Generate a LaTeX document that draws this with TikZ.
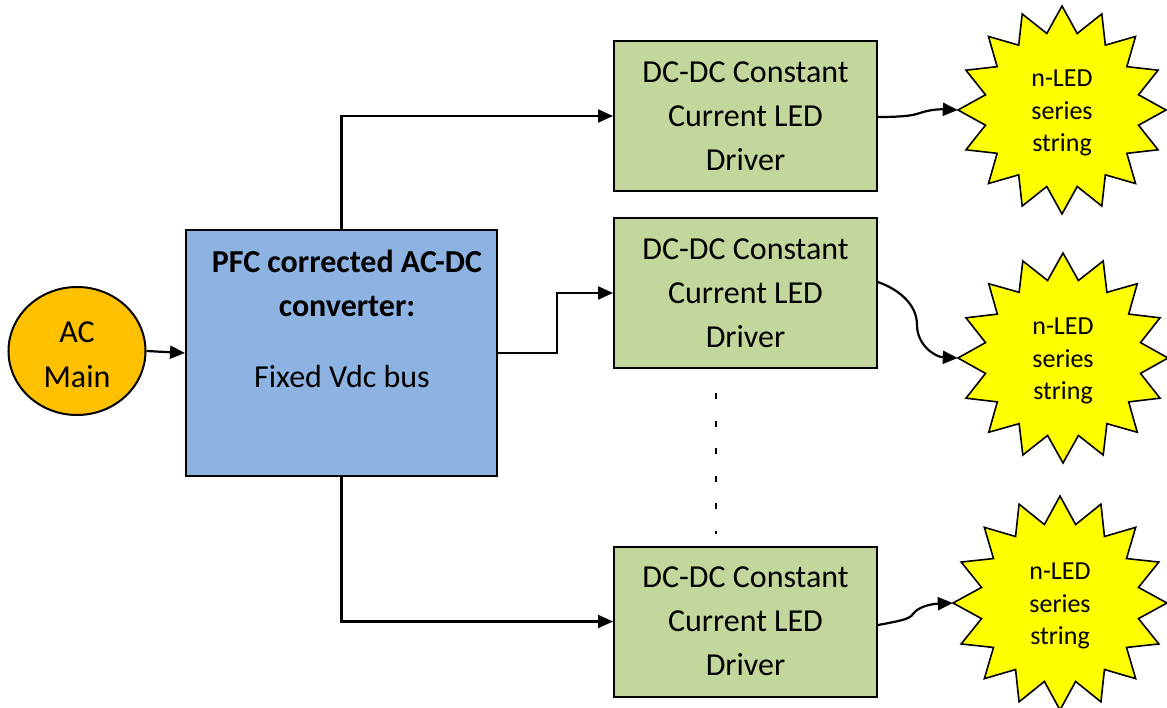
\documentclass[tikz,border=0pt]{standalone}
\usepackage{fontspec}
\setmainfont{Carlito}
\usetikzlibrary{arrows.meta,shapes.geometric,calc}
\definecolor{greenbox}{RGB}{195,214,155}
\definecolor{bluebox}{RGB}{141,179,226}
\definecolor{acorange}{RGB}{255,192,0}
\definecolor{staryellow}{RGB}{255,255,0}
\tikzset{
  drvbox/.style={draw=black, line width=2pt, fill=greenbox, minimum width=263pt, minimum height=150pt, inner sep=0pt, align=center, font=\fontsize{32}{44}\selectfont},
  pfcbox/.style={draw=black, line width=2pt, fill=bluebox, minimum width=311pt, minimum height=246pt, inner sep=0pt},
  acnode/.style={ellipse, draw=black, line width=2pt, fill=acorange, minimum width=137pt, minimum height=128pt, inner sep=0pt, align=center, font=\fontsize{32}{45}\selectfont},
  bigtxt/.style={align=center, inner sep=0pt, font=\fontsize{32}{44}\selectfont},
  starfill/.style={draw=black, line width=1.6pt, fill=staryellow, line join=miter},
  startext/.style={circle, minimum size=#1, inner sep=0pt, align=center, font=\fontsize{26}{32.5}\selectfont},
  conn/.style={draw=black, line width=2.2pt, -{Triangle[length=15pt,width=13pt]}},
  dotline/.style={draw=black, line width=2pt, dash pattern=on 6pt off 21.5pt}
}
\newcommand\ledstar[4]{%
  \filldraw[starfill] ([shift={(#1)}]90:#2) \foreach \k in {1,...,31}{ -- ([shift={(#1)}]{90+\k*11.25}:{ifthenelse(isodd(\k),#3,#2)}) } -- cycle;
  \node[startext=#2*2pt] (#4) at (#1) {\rule{0pt}{23pt}n-LED\\series\\string};
}
\begin{document}
\begin{tikzpicture}[x=1pt,y=-1pt]
\useasboundingbox (0,0) rectangle (1167,708);

% nodes
\node[acnode] (ac) at (77,351) {\rule{0pt}{29pt}AC\\Main};
\node[pfcbox] (pfc) at (341.5,353) {};
\node[bigtxt, font=\fontsize{32}{44}\selectfont\bfseries] (pfct) at (347,283.5) {PFC corrected AC-DC\\converter:};
\node[bigtxt, anchor=base] (pfcv) at (342,388) {Fixed Vdc bus};

\node[drvbox] (b1) at (745.5,116) {DC-DC Constant\\Current LED\\Driver};
\node[drvbox] (b2) at (745.5,293) {DC-DC Constant\\Current LED\\Driver};
\node[drvbox] (b3) at (745.5,621.5) {DC-DC Constant\\Current LED\\Driver};

\ledstar{1062,110}{104}{78}{s1}
\ledstar{1063,358}{105}{79}{s2}
\ledstar{1060,603}{107}{80}{s3}

% connectors
\draw[conn] (ac.east) -- (pfc.west);
\draw[conn] (pfc.north) |- (b1.west);
\draw[conn] (pfc.east) -- ++(59,0) |- (b2.west);
\draw[conn] (pfc.south) |- (b3.west);

\draw[conn] ($(b1.east)+(0,1)$) .. controls (912,117) and (916,114) .. (920,113) .. controls (926,111) and (935,109) .. (s1.west);
\draw[conn] ($(b2.east)+(0,-11)$) .. controls (900,290) and (917,305) .. (917,325) .. controls (917,345) and (935,357) .. (s2.west);
\draw[conn] ($(b3.east)+(0,3.5)$) .. controls (900,621) and (910,619) .. (913,614) .. controls (918,607) and (930,604) .. (s3.west);

% dotted continuation
\coordinate (d1) at ($(b2.south west)+(103,24)$);
\coordinate (d2) at ($(b3.north west)+(103,-12)$);
\draw[dotline] (d1) -- (d2);
\end{tikzpicture}
\end{document}
